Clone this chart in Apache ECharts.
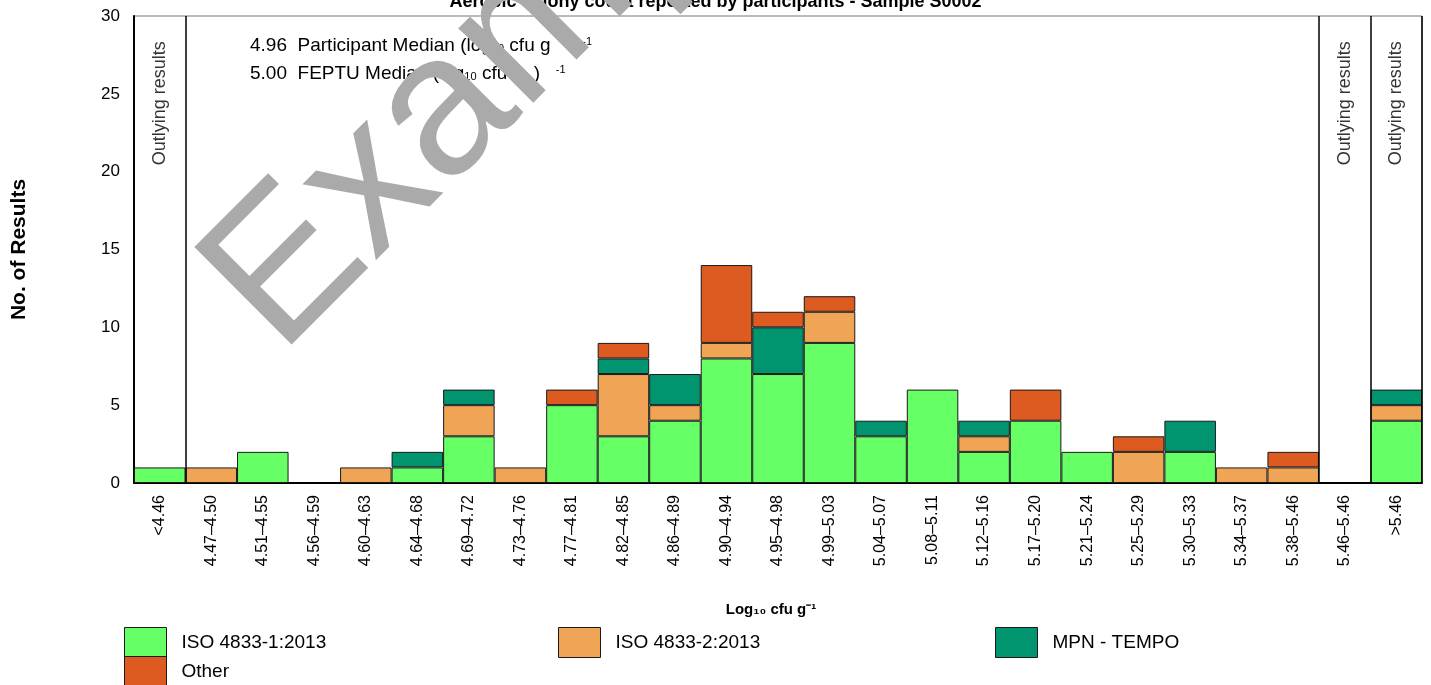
<!DOCTYPE html>
<html><head><meta charset="utf-8">
<script src="https://cdn.jsdelivr.net/npm/echarts@6/dist/echarts.min.js"></script>
<style>html,body{margin:0;padding:0;background:#fff}#c{width:1431px;height:685px}</style>
</head><body><div id="c"></div>
<script>
const categories = ['<4.46','4.47–4.50','4.51–4.55','4.56–4.59','4.60–4.63','4.64–4.68','4.69–4.72','4.73–4.76','4.77–4.81','4.82–4.85','4.86–4.89','4.90–4.94','4.95–4.98','4.99–5.03','5.04–5.07','5.08–5.11','5.12–5.16','5.17–5.20','5.21–5.24','5.25–5.29','5.30–5.33','5.34–5.37','5.38–5.46','5.46–5.46','>5.46'];
const iso1  = [1,0,2,0,0,1,3,0,5,3,4,8,7,9,3,6,2,4,2,0,2,0,0,0,4];
const iso2  = [0,1,0,0,1,0,2,1,0,4,1,1,0,2,0,0,1,0,0,2,0,1,1,0,1];
const mpn   = [0,0,0,0,0,1,1,0,0,1,2,0,3,0,1,0,1,0,0,0,2,0,0,0,1];
const other = [0,0,0,0,0,0,0,0,1,1,0,5,1,1,0,0,0,2,0,1,0,0,1,0,0];
const seriesNames = ['ISO 4833-1:2013','ISO 4833-2:2013','MPN - TEMPO','Other'];
const seriesColors = ['#66ff66','#efa555','#00956f','#dd5a20'];
const yTicks = [0,5,10,15,20,25,30];
const outlierBoundaries = [1,23,24,25];
const outlierLabelPositions = [0.5,23.5,24.5];
const participantMedian = '4.96';
const feptuMedian = '5.00';
const titleText = 'Aerobic colony count reported by participants - Sample S0002';

const FONT = 'Arial, "Liberation Sans", sans-serif';
const chart = echarts.init(document.getElementById('c'));
const values = [iso1, iso2, mpn, other];
const barSeries = values.map((arr, i) => ({
  name: seriesNames[i], type: 'bar', stack: 'total', barCategoryGap: '0%',
  xAxisIndex: 0, yAxisIndex: 0,
  itemStyle: {color: seriesColors[i], borderColor: '#1a1a1a', borderWidth: 1},
  data: arr.map(v => v === 0 ? '-' : v)
}));
const legendPos = [[119,622],[553,622],[990,622],[119,651]];
const legends = seriesNames.map((n, i) => ({
  data: [n], left: legendPos[i][0], top: legendPos[i][1], itemWidth: 42, itemHeight: 30,
  icon: 'rect', itemStyle: {borderColor: '#1a1a1a', borderWidth: 1},
  textStyle: {fontSize: 19, color: '#000', fontFamily: FONT, padding: [0,0,0,10]},
  selectedMode: false
}));
const medianRich = {
  n: {fontSize: 19, color: '#000', fontFamily: FONT},
  sub: {fontSize: 11, color: '#000', fontFamily: FONT, padding: [6,0,0,0]},
  sup: {fontSize: 11, color: '#000', fontFamily: FONT, padding: [0,0,9,0]}
};
chart.setOption({
  animation: false,
  title: {text: titleText, left: 'center', top: -12, textStyle: {fontSize: 18, fontWeight: 'bold', color: '#000', fontFamily: FONT}},
  legend: legends,
  grid: {left: 134, right: 9, top: 16, bottom: 202, show: true, borderColor: '#777', borderWidth: 1},
  xAxis: [{
    type: 'category', data: categories,
    axisLine: {lineStyle: {color: '#000', width: 2}}, axisTick: {show: false},
    axisLabel: {rotate: 90, interval: 0, fontSize: 16, color: '#000', margin: 12, fontFamily: FONT},
    name: 'Log₁₀ cfu g⁻¹', nameLocation: 'middle', nameGap: 119,
    nameTextStyle: {fontSize: 15, fontWeight: 'bold', color: '#000', fontFamily: FONT, padding: [0,14,0,0]}
  }, {
    type: 'value', min: 0, max: categories.length, show: false
  }],
  yAxis: {
    type: 'value', min: yTicks[0], max: yTicks[yTicks.length-1], interval: yTicks[1]-yTicks[0],
    splitLine: {show: false}, axisTick: {show: false},
    axisLine: {show: true, lineStyle: {color: '#000', width: 2}},
    axisLabel: {fontSize: 17, color: '#000', margin: 14, fontFamily: FONT},
    name: 'No. of Results', nameLocation: 'middle', nameGap: 104,
    nameTextStyle: {fontSize: 21, fontWeight: 'bold', color: '#000', fontFamily: FONT}
  },
  series: barSeries.concat([{
    type: 'line', xAxisIndex: 1, yAxisIndex: 0, data: [], silent: true,
    markLine: {symbol: 'none', silent: true, label: {show: false},
      lineStyle: {color: '#000', width: 1.5, type: 'solid'},
      data: outlierBoundaries.map(b => ({xAxis: b}))}
  }, {
    type: 'scatter', xAxisIndex: 1, yAxisIndex: 0, symbolSize: 1, silent: true,
    itemStyle: {color: 'rgba(0,0,0,0)'},
    label: {show: true, position: 'inside', rotate: 90, formatter: 'Outlying results', fontSize: 18, color: '#000', fontFamily: FONT},
    data: outlierLabelPositions.map(x => [x, 24.4])
  }]),
  graphic: [{
    type: 'text', left: 250, top: 36, z: 10,
    style: {text: '{n|' + participantMedian + '  Participant Median (log}{sub|10}{n| cfu g      }{sup|-1}', rich: medianRich}
  }, {
    type: 'text', left: 250, top: 64, z: 10,
    style: {text: '{n|' + feptuMedian + '  FEPTU Median (log}{sub|10}{n| cfu g  )   }{sup|-1}', rich: medianRich}
  }, {
    type: 'text', x: 516, y: 42, rotation: Math.PI/4, z: 100, silent: true,
    style: {text: 'Example', fontSize: 200, fill: '#aaaaaa', fontFamily: FONT, align: 'center', verticalAlign: 'middle'}
  }]
});
</script></body></html>
